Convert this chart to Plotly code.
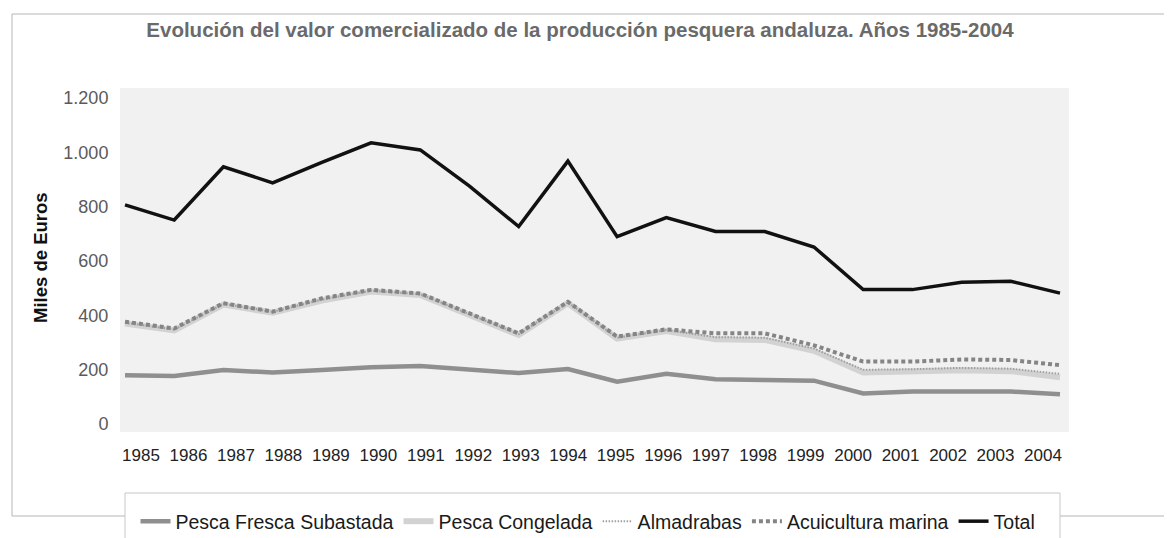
import plotly.graph_objects as go

years = list(range(1985, 2005))
year_labels = [str(y) for y in years]

pesca_fresca = [180, 177, 199, 190, 199, 209, 214, 200, 188, 203, 156, 185, 165, 162, 160, 113, 120, 120, 120, 110]
pesca_congelada = [370, 345, 440, 410, 455, 488, 475, 402, 328, 445, 315, 343, 312, 310, 270, 190, 193, 198, 195, 172]
almadrabas = [373, 348, 443, 413, 458, 491, 478, 405, 331, 448, 318, 346, 320, 318, 278, 200, 202, 207, 204, 185]
acuicultura = [377, 352, 445, 414, 463, 494, 481, 408, 334, 450, 322, 349, 334, 334, 290, 230, 230, 238, 236, 217]
total = [807, 751, 947, 888, 963, 1035, 1009, 876, 727, 968, 690, 760, 709, 709, 652, 495, 495, 522, 526, 482]

y_tickvals = [0, 200, 400, 600, 800, 1000, 1200]
y_ticktext = ["0", "200", "400", "600", "800", "1.000", "1.200"]

title_text = "Evolución del valor comercializado de la producción pesquera andaluza. Años 1985-2004"

W, H = 1164, 530          # page body has an 8px margin
PL, PR, PT, PB = 112, 1061, 80, 424   # plot area in figure pixels
PW, PH = PR - PL, PB - PT


def px(p):
    return (p - PL) / PW


def py(q):
    return (PB - q) / PH


fig = go.Figure()
fig.add_trace(go.Scatter(x=years, y=pesca_fresca, name="Pesca Fresca Subastada", mode="lines",
                         line=dict(color="#8f8f8f", width=4.5)))
fig.add_trace(go.Scatter(x=years, y=pesca_congelada, name="Pesca Congelada", mode="lines",
                         line=dict(color="#d2d2d2", width=6)))
fig.add_trace(go.Scatter(x=years, y=almadrabas, name="Almadrabas", mode="lines",
                         line=dict(color="#a0a0a0", width=2, dash="1.5px,1.5px")))
fig.add_trace(go.Scatter(x=years, y=acuicultura, name="Acuicultura marina", mode="lines",
                         line=dict(color="#858585", width=4, dash="4px,3px")))
fig.add_trace(go.Scatter(x=years, y=total, name="Total", mode="lines",
                         line=dict(color="#111111", width=3.5)))

label_font = dict(family="Liberation Sans, Arial, sans-serif", size=17, color="#222222")

fig.update_layout(
    width=W, height=H,
    margin=dict(l=PL, r=W - PR, t=PT, b=H - PB, autoexpand=False),
    paper_bgcolor="white",
    plot_bgcolor="#f1f1f1",
    title=dict(text="<b>" + title_text + "</b>", x=px(572), xref="paper", xanchor="center",
               y=1 - 22 / H, yref="container", yanchor="middle",
               font=dict(family="Liberation Sans, Arial, sans-serif", size=20.5, color="#6a6a6a")),
    xaxis=dict(range=[1984.898, 2004.183], showticklabels=False,
               showgrid=False, zeroline=False, showline=False, ticks=""),
    xaxis2=dict(overlaying="x", anchor="y", side="bottom",
                range=[1984.558, 2004.548], tickvals=years, ticktext=year_labels,
                showgrid=False, zeroline=False, showline=False,
                ticks="outside", ticklen=8, tickcolor="rgba(0,0,0,0)", tickfont=label_font),
    yaxis=dict(range=[-29, 1237], tickvals=y_tickvals, ticktext=y_ticktext,
               showgrid=False, zeroline=False, showline=False,
               ticks="outside", ticklen=7, tickcolor="rgba(0,0,0,0)",
               tickfont=dict(family="Liberation Sans, Arial, sans-serif", size=18, color="#5a5a5a")),
    showlegend=True,
    legend=dict(orientation="h", x=px(580), xanchor="center", y=py(494), yanchor="top",
                bgcolor="rgba(0,0,0,0)", borderwidth=0,
                font=dict(family="Liberation Sans, Arial, sans-serif", size=19.5, color="#1a1a1a"),
                itemwidth=30, tracegroupgap=0),
    annotations=[dict(text="<b>Miles de Euros</b>", textangle=-90, x=px(32), xref="paper",
                      xanchor="center", y=py(250), yref="paper", yanchor="middle", showarrow=False,
                      font=dict(family="Liberation Sans, Arial, sans-serif", size=18.5, color="#111111"))],
    shapes=[
        dict(type="rect", xref="paper", yref="paper",
             x0=px(4), x1=px(1185), y0=py(508), y1=py(6),
             line=dict(color="#b5b5b5", width=1), layer="below"),
        dict(type="rect", xref="paper", yref="paper",
             x0=px(117), x1=px(1052), y0=py(560), y1=py(485),
             fillcolor="white", line=dict(color="#c8c8c8", width=1), layer="below"),
    ],
)

# invisible helper trace to keep xaxis2 active for tick labels
fig.add_trace(go.Scatter(x=[years[0]], y=[None], xaxis="x2", showlegend=False, hoverinfo="skip",
                         mode="lines"))

fig.write_html("out.html")
